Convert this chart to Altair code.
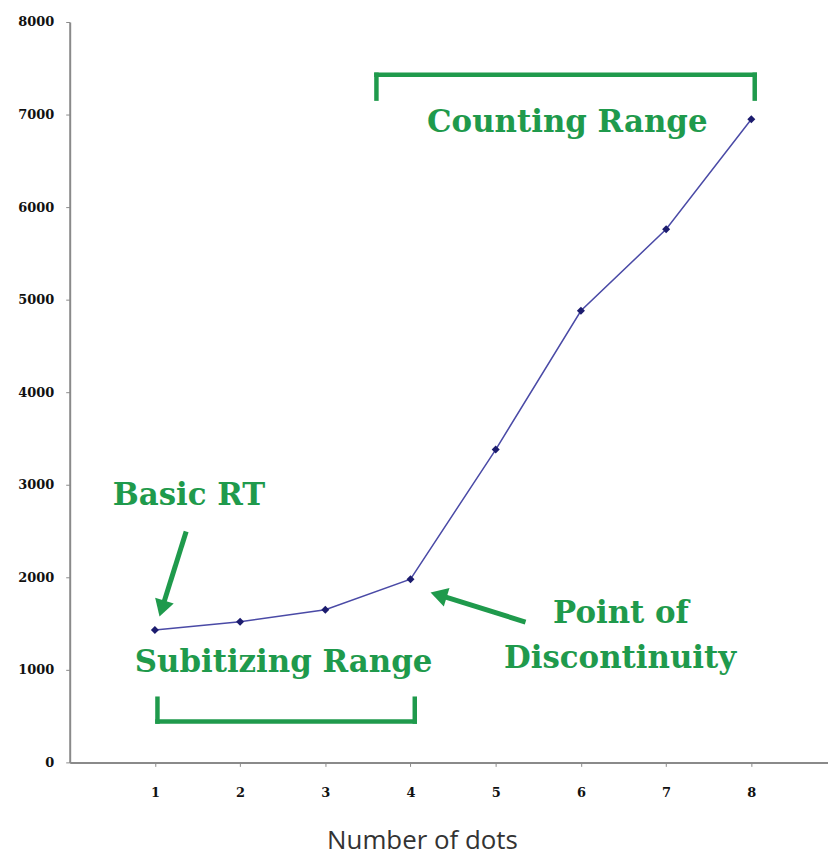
import altair as alt
import pandas as pd

# main series
dots = [1, 2, 3, 4, 5, 6, 7, 8]
rt = [1430, 1520, 1650, 1980, 3380, 4880, 5760, 6950]

# annotation labels (data coordinates)
label_text = ["Counting Range", "Subitizing Range", "Basic RT", "Point of", "Discontinuity"]
label_x = [5.84, 2.51, 1.40, 6.47, 6.46]
label_y = [6903, 1075, 2882, 1602, 1118]

# bracket segments (data coordinates)
seg_x = [3.60, 3.60, 8.04, 1.03, 1.03, 4.05]
seg_y = [7430, 7430, 7430, 441, 441, 441]
seg_x2 = [8.04, 3.60, 8.04, 4.05, 1.03, 4.05]
seg_y2 = [7430, 7172, 7172, 441, 688, 688]

# arrows: tail -> head centre, plus head angle
arrow_x = [1.367, 5.35]
arrow_y = [2495, 1516]
arrow_hx = [1.083, 4.33]
arrow_hy = [1662, 1810]
arrow_angle = [197, 287]

green = "#1f9a4c"
xs = alt.Scale(domain=[0, 8.9], nice=False, zero=False)
ys = alt.Scale(domain=[0, 8000], nice=False)

df = pd.DataFrame({"dots": dots, "rt": rt})
lab = pd.DataFrame({"t": label_text, "x": label_x, "y": label_y})
seg = pd.DataFrame({"x": seg_x, "y": seg_y, "x2": seg_x2, "y2": seg_y2})
arr = pd.DataFrame({"x": arrow_x, "y": arrow_y, "hx": arrow_hx, "hy": arrow_hy, "a": arrow_angle})

base_x = alt.X(
    "dots:Q", scale=xs,
    axis=alt.Axis(values=dots, format="d", title="Number of dots", grid=False,
                  domainColor="#8a8a8a", domainWidth=2, tickColor="#8a8a8a",
                  tickSize=4, labelPadding=20, labelFont="DejaVu Serif",
                  labelFontWeight="bold", labelFontSize=13, labelColor="#111",
                  titleFont="Open Sans", titleFontSize=26, titleFontWeight="normal",
                  titleColor="#333", titleX=354, titleY=79, titleBaseline="middle"),
)
base_y = alt.Y(
    "rt:Q", scale=ys,
    axis=alt.Axis(values=list(range(0, 8001, 1000)), format="d", title=None, grid=False,
                  domainColor="#8a8a8a", domainWidth=2, tickColor="#8a8a8a",
                  tickSize=4, labelPadding=12, labelFont="DejaVu Serif",
                  labelFontWeight="bold", labelFontSize=13, labelColor="#111"),
)

line = alt.Chart(df).mark_line(color="#4a4aa6", strokeWidth=1.5).encode(x=base_x, y=base_y)
pts = alt.Chart(df).mark_point(shape="diamond", filled=True, color="#1c1c6e", size=65, opacity=1).encode(
    x=alt.X("dots:Q", scale=xs), y=alt.Y("rt:Q", scale=ys))

segs = alt.Chart(seg).mark_rule(color=green, strokeWidth=4.5, strokeCap="square").encode(
    x=alt.X("x:Q", scale=xs), y=alt.Y("y:Q", scale=ys), x2="x2:Q", y2="y2:Q")

shafts = alt.Chart(arr).mark_rule(color=green, strokeWidth=5).encode(
    x=alt.X("x:Q", scale=xs), y=alt.Y("y:Q", scale=ys), x2="hx:Q", y2="hy:Q")
heads = alt.Chart(arr).mark_point(shape="triangle-up", filled=True, color=green, size=380, opacity=1).encode(
    x=alt.X("hx:Q", scale=xs), y=alt.Y("hy:Q", scale=ys), angle=alt.Angle("a:Q", scale=None))

texts = alt.Chart(lab).mark_text(color=green, font="DejaVu Serif", fontWeight="bold", fontSize=31,
                                 align="center", baseline="middle").encode(
    x=alt.X("x:Q", scale=xs), y=alt.Y("y:Q", scale=ys), text="t:N")

chart = alt.layer(line, pts, segs, shafts, heads, texts).properties(
    width=762, height=744,
    autosize=alt.AutoSizeParams(type="none"),
    padding={"left": 62, "top": 12, "right": 0, "bottom": 92},
).configure_view(stroke=None)

chart.save("out.html", embed_options={"renderer": "svg", "actions": False})
